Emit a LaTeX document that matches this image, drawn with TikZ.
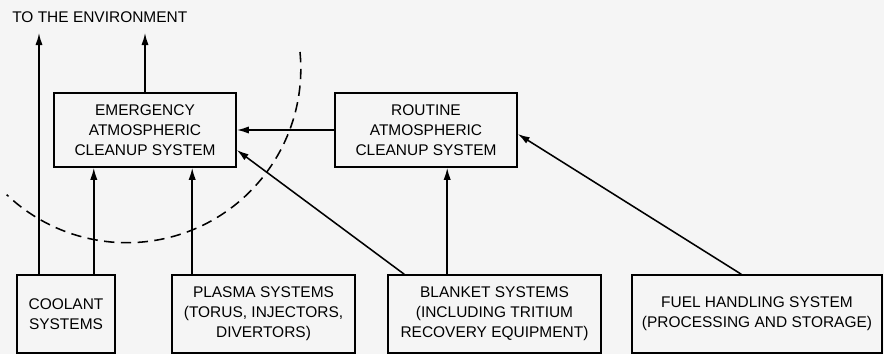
\documentclass[tikz,border=0pt]{standalone}
\usepackage{fontspec}
\setmainfont{Liberation Sans}
\usetikzlibrary{arrows.meta}

\begin{document}
\begin{tikzpicture}[x=0.025cm,y=-0.025cm,font=\fontsize{11}{14.2}\selectfont,
  sysbox/.style={draw,line width=1.1pt,align=center,inner sep=2pt},
  flow/.style={line width=1.1pt,-{Latex[length=3mm,width=1.8mm]}}]
\useasboundingbox[fill=black!4] (0,0) rectangle (884,354);
\node[anchor=west,inner sep=0] (env) at (12,17.5) {TO THE ENVIRONMENT};
\node[sysbox,minimum width=4.55cm,minimum height=1.85cm] (emergency) at (145,130) {EMERGENCY\\ATMOSPHERIC\\CLEANUP SYSTEM};
\node[sysbox,minimum width=4.55cm,minimum height=1.85cm] (routine) at (426,130) {ROUTINE\\ATMOSPHERIC\\CLEANUP SYSTEM};
\node[sysbox,minimum width=2.45cm,minimum height=1.95cm] (coolant) at (66,314) {COOLANT\\SYSTEMS};
\node[sysbox,minimum width=4.575cm,minimum height=1.95cm] (plasma) at (263.5,314) {PLASMA SYSTEMS\\(TORUS, INJECTORS,\\DIVERTORS)};
\node[sysbox,minimum width=5.325cm,minimum height=1.95cm] (blanket) at (494.5,314) {BLANKET SYSTEMS\\(INCLUDING TRITIUM\\RECOVERY EQUIPMENT)};
\node[sysbox,minimum width=6.25cm,minimum height=1.95cm] (fuel) at (757,314) {FUEL HANDLING SYSTEM\\(PROCESSING AND STORAGE)};
% free ends and start points on the box tops
\coordinate (out1) at (39,33);
\coordinate (out2) at (145,33);
\coordinate (c1) at ([xshift=-0.55cm]coolant.north east);
\coordinate (p1) at ([xshift=0.525cm]plasma.north west);
\coordinate (b1) at ([xshift=0.425cm]blanket.north west);
\coordinate (b2) at ([xshift=1.5cm]blanket.north west);
\coordinate (f1) at ([xshift=2.75cm]fuel.north west);
\draw[flow] (coolant.north -| out1) -- (out1);
\draw[flow] (emergency.north) -- (out2);
\draw[flow] (c1) -- (c1 |- emergency.south);
\draw[flow] (p1) -- (p1 |- emergency.south);
\draw[flow] (b1) -- ([yshift=-0.5cm]emergency.east);
\draw[flow] (routine.west) -- (emergency.east);
\draw[flow] (b2) -- (b2 |- routine.south);
\draw[flow] (f1) -- ([yshift=-0.1cm]routine.east);
% boundary
\draw[line width=1.1pt,dash pattern=on 2.6mm off 1.6mm] (300,52) arc[start angle=5.5,end angle=-133.6,radius=4.35cm];
\end{tikzpicture}
\end{document}
